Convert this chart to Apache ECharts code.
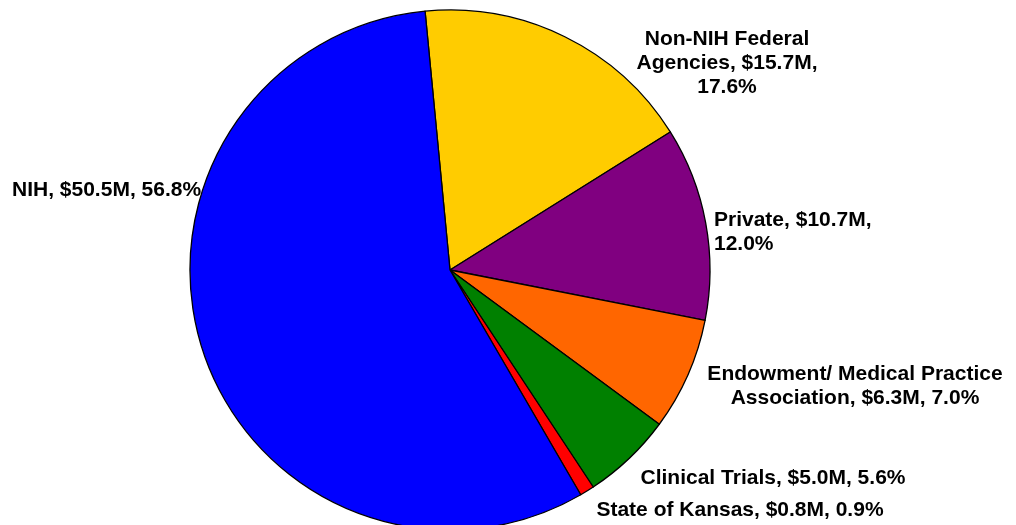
<!DOCTYPE html>
<html>
<head>
<meta charset="utf-8">
<script src="https://cdn.jsdelivr.net/npm/echarts@6/dist/echarts.min.js"></script>
<style>
  html, body { margin: 0; padding: 0; background: #fff; }
  #chart { width: 1016px; height: 525px; }
</style>
</head>
<body>
<div id="chart"></div>
<script>
// funding sources, clockwise from the top
const names = ["Non-NIH Federal\nAgencies", "Private", "Endowment/ Medical Practice\nAssociation", "Clinical Trials", "State of Kansas", "NIH"];
const amounts = ["$15.7M", "$10.7M", "$6.3M", "$5.0M", "$0.8M", "$50.5M"];
const percents = [17.6, 12.0, 7.0, 5.6, 0.9, 56.8];
const colors = ["#FFCC00", "#800080", "#FF6600", "#008000", "#FF0000", "#0000FF"];

// label text, broken into lines the way the original shows them
const labelText = [
  "Non-NIH Federal\nAgencies, $15.7M,\n17.6%",
  "Private, $10.7M,\n12.0%",
  "Endowment/ Medical Practice\nAssociation, $6.3M, 7.0%",
  "Clinical Trials, $5.0M, 5.6%",
  "State of Kansas, $0.8M, 0.9%",
  "NIH, $50.5M, 56.8%"
];

// where each label sits (x, y, align)
const labelPos = [
  [727, 63, "center"],
  [714, 232, "left"],
  [855, 386, "center"],
  [773, 478, "center"],
  [740, 510, "center"],
  [12, 190, "left"]
];

const myChart = echarts.init(document.getElementById("chart"));

const option = {
  animation: false,
  series: [
    {
      type: "pie",
      center: [450, 270],
      radius: [0, 260],
      startAngle: 95.5,
      clockwise: true,
      avoidLabelOverlap: false,
      data: percents.map((v, i) => ({
        name: names[i],
        value: v,
        itemStyle: { color: colors[i] }
      })),
      itemStyle: {
        borderColor: "#000",
        borderWidth: 1.3
      },
      label: {
        show: true,
        position: "outside",
        formatter: (p) => labelText[p.dataIndex],
        fontFamily: "Liberation Sans, Arial, sans-serif",
        fontWeight: "bold",
        fontSize: 21,
        lineHeight: 24,
        color: "#000"
      },
      labelLine: { show: false },
      labelLayout: (params) => {
        const pos = labelPos[params.dataIndex];
        return {
          x: pos[0],
          y: pos[1],
          align: pos[2],
          verticalAlign: "middle"
        };
      },
      emphasis: { disabled: true }
    }
  ]
};

myChart.setOption(option);
window.addEventListener("resize", myChart.resize);
</script>
</body>
</html>
